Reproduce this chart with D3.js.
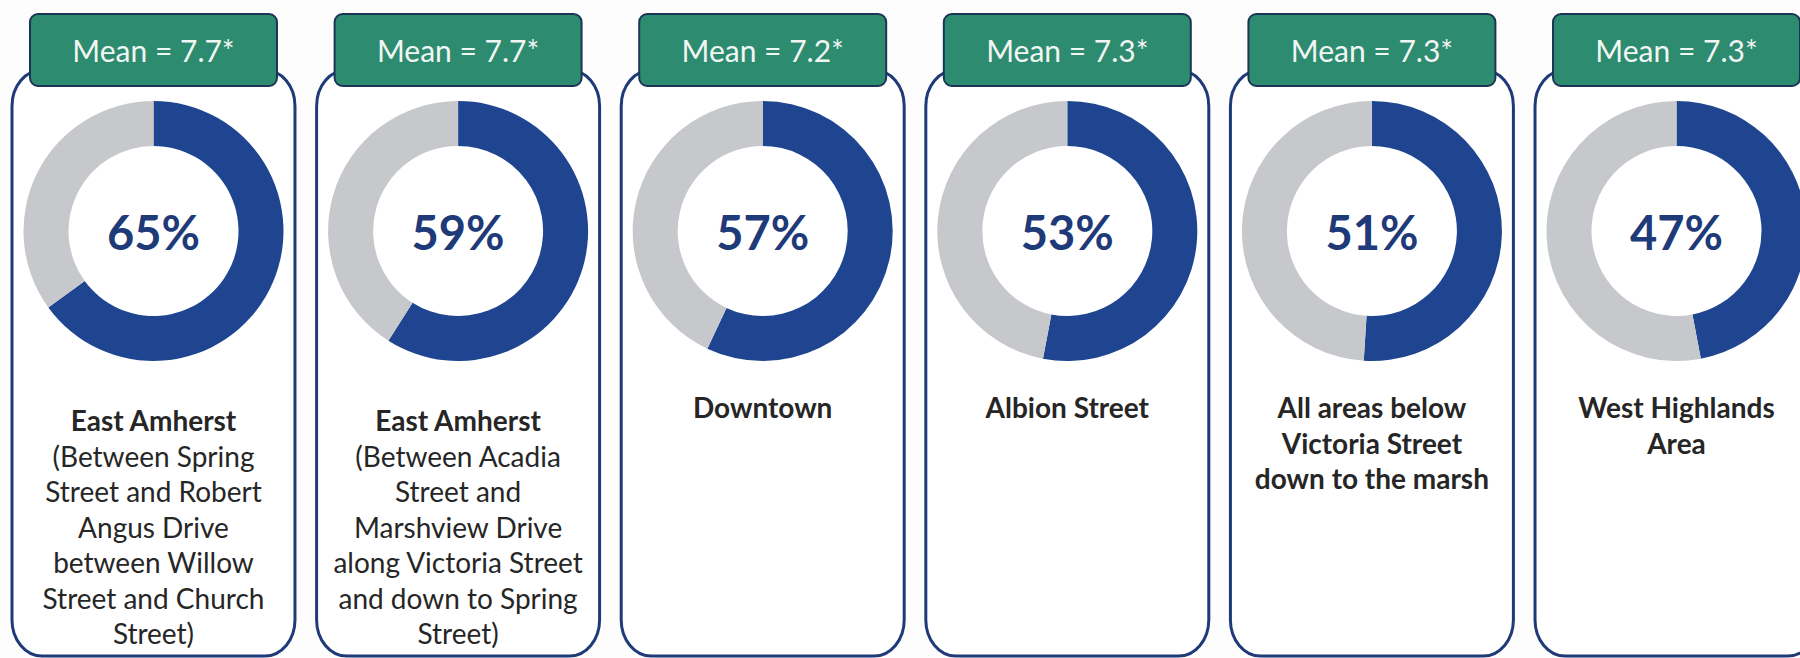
<!DOCTYPE html>
<html>
<head>
<meta charset="utf-8">
<script src="https://cdn.jsdelivr.net/npm/d3@7"></script>
<style>
  html, body { margin: 0; padding: 0; background: #fdfdfd; }
  svg { display: block; font-family: Lato, "Open Sans", sans-serif; }
</style>
</head>
<body>
<div id="chart"></div>
<script>
var WIDTH = 1800;
var HEIGHT = 658;

// share of respondents, by area
var percents = [65, 59, 57, 53, 51, 47];
var means = ['7.7', '7.7', '7.2', '7.3', '7.3', '7.3'];
var boldLines = [
  ['East Amherst'],
  ['East Amherst'],
  ['Downtown'],
  ['Albion Street'],
  ['All areas below', 'Victoria Street', 'down to the marsh'],
  ['West Highlands', 'Area']
];
var plainLines = [
  ['(Between Spring', 'Street and Robert', 'Angus Drive', 'between Willow', 'Street and Church', 'Street)'],
  ['(Between Acadia', 'Street and', 'Marshview Drive', 'along Victoria Street', 'and down to Spring', 'Street)'],
  [],
  [],
  [],
  []
];

var BLUE = '#1f4591';
var GREY = '#c6c8cc';
var NAVY = '#1f3a78';
var GREEN = '#2d8b70';

var svg = d3.select('#chart').append('svg')
  .attr('width', WIDTH)
  .attr('height', HEIGHT);

var x = d3.scaleBand()
  .domain(d3.range(percents.length))
  .range([12, 1818])
  .paddingInner(0.071)
  .paddingOuter(0);

var pie = d3.pie().sort(null).value(function (d) { return d; });
var arc = d3.arc().innerRadius(85).outerRadius(130);

var panels = svg.selectAll('g.panel')
  .data(percents)
  .enter()
    .append('g')
    .attr('class', 'panel')
    .attr('transform', function (d, i) { return 'translate(' + x(i) + ',0)'; });

// outline
panels.append('rect')
  .attr('x', 0)
  .attr('y', 70)
  .attr('width', x.bandwidth())
  .attr('height', 586)
  .attr('rx', 30)
  .attr('ry', 36)
  .attr('fill', '#ffffff')
  .attr('stroke', NAVY)
  .attr('stroke-width', 3);

// mean tag
panels.append('rect')
  .attr('x', 18)
  .attr('y', 14)
  .attr('width', x.bandwidth() - 36)
  .attr('height', 72)
  .attr('rx', 8)
  .attr('fill', GREEN)
  .attr('stroke', '#1c3556')
  .attr('stroke-width', 2);

panels.append('text')
  .attr('x', x.bandwidth() / 2)
  .attr('y', 62)
  .attr('text-anchor', 'middle')
  .attr('fill', '#f2f6f3')
  .attr('font-size', 30)
  .text(function (d, i) { return 'Mean = ' + means[i] + '*'; });

// donut
var donut = panels.append('g')
  .attr('transform', 'translate(' + (x.bandwidth() / 2) + ',231)');

donut.selectAll('path')
  .data(function (d) { return pie([d, 100 - d]); })
  .enter()
    .append('path')
    .attr('d', arc)
    .attr('fill', function (d, i) { return i === 0 ? BLUE : GREY; });

donut.append('text')
  .attr('text-anchor', 'middle')
  .attr('y', 19)
  .attr('font-size', 47)
  .attr('font-weight', 'bold')
  .attr('fill', NAVY)
  .text(function (d) { return d + '%'; });

// area labels
panels.each(function (d, i) {
  var g = d3.select(this);
  var top = plainLines[i].length > 0 ? 431 : 418;
  var lines = boldLines[i].map(function (t) { return { t: t, b: true }; })
    .concat(plainLines[i].map(function (t) { return { t: t, b: false }; }));
  g.selectAll('text.label')
    .data(lines)
    .enter()
      .append('text')
      .attr('class', 'label')
      .attr('x', x.bandwidth() / 2)
      .attr('y', function (l, j) { return top + j * 35.5; })
      .attr('text-anchor', 'middle')
      .attr('font-size', 28)
      .attr('font-weight', function (l) { return l.b ? 'bold' : 'normal'; })
      .attr('fill', '#262626')
      .text(function (l) { return l.t; });
});
</script>
</body>
</html>
